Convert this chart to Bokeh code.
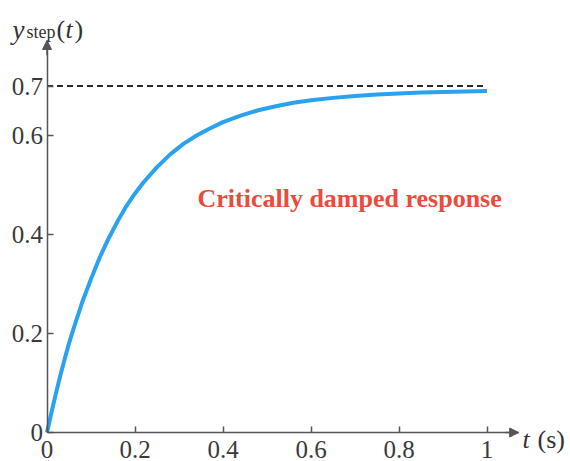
from bokeh.plotting import figure
from bokeh.models import Range1d, FixedTicker, Arrow, NormalHead, Label
from bokeh.embed import file_html
from bokeh.resources import INLINE

# ---- data ----
t_values = [0, 0.01, 0.02, 0.03, 0.04, 0.05, 0.06, 0.08, 0.1, 0.12, 0.14, 0.16,
            0.18, 0.2, 0.22, 0.25, 0.28, 0.31, 0.34, 0.37, 0.4, 0.44, 0.48, 0.52,
            0.56, 0.6, 0.65, 0.7, 0.75, 0.8, 0.85, 0.9, 0.95, 1.0]
y_values = [0, 0.040, 0.078, 0.114, 0.148, 0.180, 0.209, 0.263, 0.310, 0.354, 0.392, 0.426,
            0.457, 0.483, 0.506, 0.536, 0.562, 0.583, 0.600, 0.614, 0.627, 0.640, 0.651, 0.659,
            0.666, 0.671, 0.676, 0.680, 0.683, 0.685, 0.687, 0.688, 0.689, 0.690]
final_value = 0.7

x_ticks = [0, 0.2, 0.4, 0.6, 0.8, 1]
x_tick_labels = ["0", "0.2", "0.4", "0.6", "0.8", "1"]
y_ticks = [0, 0.2, 0.4, 0.6, 0.7]
y_tick_labels = ["0", "0.2", "0.4", "0.6", "0.7"]

annotation_text = "Critically damped response"

# ---- figure ----
X0_PX, X_SCALE = 46.5, 440.0
Y0_PX, Y_SCALE = 432.0, 495.0
W, H = 570, 461

p = figure(width=W, height=H,
           x_range=Range1d(-X0_PX / X_SCALE, (W - X0_PX) / X_SCALE),
           y_range=Range1d((Y0_PX - H) / Y_SCALE, Y0_PX / Y_SCALE),
           output_backend="svg", toolbar_location=None, min_border=0)
p.outline_line_color = None
p.grid.visible = False
p.background_fill_color = "white"
p.border_fill_color = "white"

AX_COL = "#555555"
FONT = "Liberation Serif"
X_TIP = 1.072
Y_TIP = 0.792

for ax in (p.xaxis[0], p.yaxis[0]):
    ax.fixed_location = 0
    ax.axis_line_color = AX_COL
    ax.axis_line_width = 1.5
    ax.major_tick_in = 6
    ax.major_tick_out = 0
    ax.major_tick_line_color = AX_COL
    ax.major_tick_line_width = 1.5
    ax.minor_tick_line_color = None
    ax.major_label_text_font = FONT
    ax.major_label_text_font_size = "25px"
    ax.major_label_text_color = "#3a3a3a"

p.xaxis[0].ticker = FixedTicker(ticks=x_ticks)
p.xaxis[0].major_label_overrides = dict(zip(x_ticks, x_tick_labels))
p.xaxis[0].bounds = (0, X_TIP)
p.xaxis[0].major_label_standoff = 8

p.yaxis[0].ticker = FixedTicker(ticks=y_ticks)
p.yaxis[0].major_label_overrides = dict(zip(y_ticks, y_tick_labels))
p.yaxis[0].bounds = (0, Y_TIP)
p.yaxis[0].major_label_standoff = 4

# arrow heads on the axes
p.add_layout(Arrow(end=NormalHead(size=9, fill_color=AX_COL, line_color=AX_COL, line_width=1),
                   x_start=X_TIP - 0.03, y_start=0, x_end=X_TIP, y_end=0,
                   line_color=AX_COL, line_width=1.5))
p.add_layout(Arrow(end=NormalHead(size=9, fill_color=AX_COL, line_color=AX_COL, line_width=1),
                   x_start=0, y_start=Y_TIP - 0.03, x_end=0, y_end=Y_TIP,
                   line_color=AX_COL, line_width=1.5))

# asymptote
p.line(x=[t_values[0], t_values[-1]], y=[final_value, final_value],
       line_color="#2a2a2a", line_width=2, line_dash="6 4")

# response curve
p.line(x=t_values, y=y_values, line_color="#2aa2f0", line_width=4)

# annotation
p.add_layout(Label(x=0.342, y=0.4727, text=annotation_text,
                   text_font=FONT, text_font_size="26px", text_font_style="bold",
                   text_color="#ee4a3c", text_baseline="alphabetic"))

# y-axis label: y_step(t)
yl = (Y0_PX - 29) / Y_SCALE
p.add_layout(Label(x=(12 - X0_PX) / X_SCALE, y=yl, text="y", text_font=FONT,
                   text_font_size="27px", text_font_style="italic",
                   text_color="#333333", text_baseline="alphabetic"))
p.add_layout(Label(x=(26 - X0_PX) / X_SCALE, y=(Y0_PX - 31.5) / Y_SCALE, text="step",
                   text_font=FONT, text_font_size="18px",
                   text_color="#333333", text_baseline="alphabetic"))
p.add_layout(Label(x=(56 - X0_PX) / X_SCALE, y=yl, text="(", text_font=FONT,
                   text_font_size="26px", text_color="#333333", text_baseline="alphabetic"))
p.add_layout(Label(x=(65 - X0_PX) / X_SCALE, y=yl, text="t", text_font=FONT,
                   text_font_size="26px", text_font_style="italic",
                   text_color="#333333", text_baseline="alphabetic"))
p.add_layout(Label(x=(74 - X0_PX) / X_SCALE, y=yl, text=")", text_font=FONT,
                   text_font_size="26px", text_color="#333333", text_baseline="alphabetic"))

# x-axis label: t (s)
xl = (Y0_PX - 439) / Y_SCALE
p.add_layout(Label(x=(522 - X0_PX) / X_SCALE, y=xl, text="t", text_font=FONT,
                   text_font_size="26px", text_font_style="italic",
                   text_color="#333333", text_baseline="alphabetic"))
p.add_layout(Label(x=(537 - X0_PX) / X_SCALE, y=xl, text="(s)", text_font=FONT,
                   text_font_size="26px", text_color="#333333", text_baseline="alphabetic"))

open("out.html", "w").write(file_html(p, INLINE))
